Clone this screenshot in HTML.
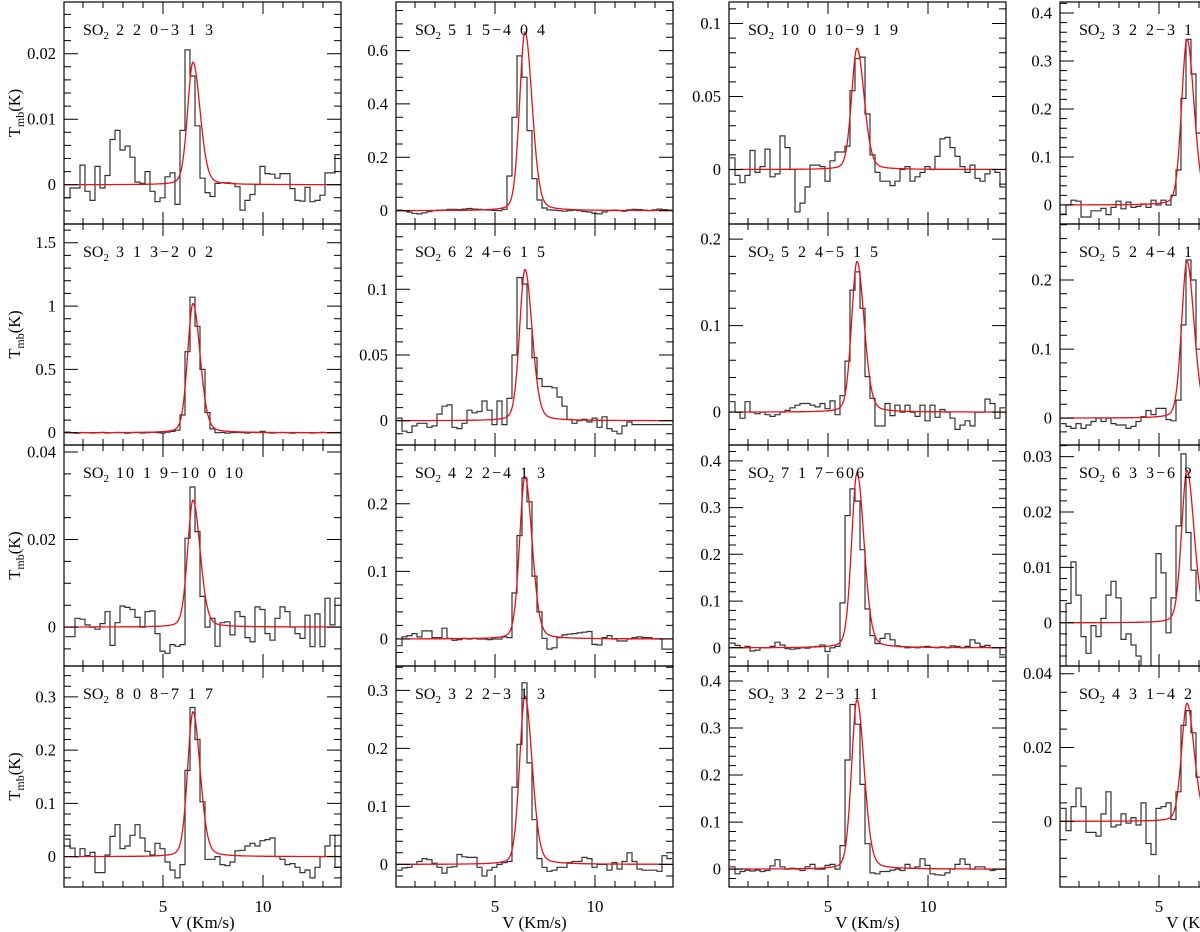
<!DOCTYPE html>
<html><head><meta charset="utf-8"><style>
html,body{margin:0;padding:0;background:#fff;}
svg{display:block;font-family:"Liberation Serif",serif;}
</style></head><body>
<svg id="fig" width="1200" height="932" viewBox="0 0 1200 932"></svg>
<script>
// ---- data ----
const titles = ["2 2 0\u22123 1 3","3 1 3\u22122 0 2","10 1 9\u221210 0 10","8 0 8\u22127 1 7",
"5 1 5\u22124 0 4","6 2 4\u22126 1 5","4 2 2\u22124 1 3","3 2 2\u22123 1 3",
"10 0 10\u22129 1 9","5 2 4\u22125 1 5","7 1 7\u2212606","3 2 2\u22123 1 1",
"3 2 2\u22123 1 2","5 2 4\u22124 1 3","6 3 3\u22126 2 4","4 3 1\u22124 2 2"];
const yMins = [-0.006,-0.097,-0.0089,-0.057, -0.05,-0.0185,-0.04,-0.039, -0.0373,-0.038,-0.039,-0.038, -0.0396,-0.039,-0.0078,-0.0178];
const yMaxs = [0.0279,1.648,0.0416,0.358, 0.782,0.1497,0.287,0.342, 0.1147,0.2174,0.434,0.4318, 0.4229,0.2812,0.0321,0.0421];
const yMajor = [0.01,0.5,0.02,0.1, 0.2,0.05,0.1,0.1, 0.05,0.1,0.1,0.1, 0.1,0.1,0.01,0.02];
const yMinor = [0.002,0.1,0.005,0.02, 0.05,0.01,0.02,0.02, 0.01,0.02,0.02,0.02, 0.02,0.02,0.002,0.005];
const fitAmp = [0.0187,1.02,0.029,0.272, 0.67,0.115,0.24,0.29, 0.083,0.174,0.374,0.36, 0.345,0.227,0.0275,0.032];
const fitCen = [6.5,6.5,6.5,6.5, 6.5,6.5,6.5,6.5, 6.45,6.45,6.45,6.45, 6.4,6.4,6.4,6.4];
const xTicks = [5,10];
const d1 = [-0.002,-0.0005,-0.0005,0.003,-0.001,-0.0024,0.0028,-0.0005,0.0014,0.0069,0.0083,0.0053,0.0059,0.0042,0.0004,0.0002,0.002,-0.001,-0.0026,-0.002,0.0012,0.0018,-0.003,0.0083,0.0206,0.0166,0.009,0.001,-0.0012,-0.0018,0.0002,0.0003,0.0003,0.0002,-0.0003,-0.0039,-0.0024,-0.0015,0,0.0028,0.0017,0.0016,0.001,0.0017,0.0017,-0.0006,-0.0024,-0.0025,-0.0004,-0.0026,-0.0024,-0.0016,0.0018,0.0018,0.0046];
const d2 = [0.005,0,-0.003,0.002,0,-0.002,0,0.003,-0.002,0,0.002,0,-0.003,0,0.002,-0.002,0,0.003,0,-0.002,0.004,0.01,0.02,0.14,0.64,1.07,0.84,0.5,0.16,0.03,0,0.002,-0.003,0,0.002,0,-0.002,0.003,0,0.01,0,-0.002,0,0.002,0,-0.003,0,0.002,0,-0.002,0,0.003,0,0,0.002];
const d3 = [-0.0022,-0.0022,0.002,0.0018,0.0005,0,-0.0005,0.0008,0.0035,-0.0042,0.001,0.0048,0.0045,0.004,0.0022,0,0.0035,0.0037,-0.0015,-0.0055,-0.006,-0.004,-0.0044,-0.004,0.0203,0.032,0.0218,0.007,0,0.002,-0.0044,0.001,0.0012,-0.0018,0.0035,0.0024,-0.0024,-0.0034,0.0046,0.004,-0.0015,-0.003,0.002,0.0046,0.0035,0,-0.0015,-0.0026,0.0027,-0.0045,0.003,-0.0045,0.0066,0.0005,0.0066];
const d4 = [0.033,0.016,0,0.015,0.002,0.008,-0.03,-0.03,0.003,0.038,0.06,0.015,0.02,0.04,0.06,0.035,0.01,0.003,0.025,0.015,-0.01,-0.025,-0.04,-0.015,0.162,0.28,0.22,0.103,-0.005,-0.005,0,-0.015,-0.017,-0.01,0.011,0.012,0.02,0.025,0.02,0.03,0.032,0.035,0,-0.005,-0.015,-0.013,-0.02,-0.03,-0.025,-0.04,-0.02,0,0.02,0.04,-0.02];
const d5 = [0.002,0,-0.005,-0.01,-0.012,-0.008,-0.004,0,0.002,0.002,0.005,0.005,0.004,0.006,0.008,0.006,0.005,0.003,0.002,0.001,0,0.005,0.13,0.35,0.58,0.5,0.3,0.12,0.04,0.01,0.003,0.002,0,-0.002,0,0.002,0,-0.003,-0.005,-0.01,-0.012,-0.005,0,0.002,0,-0.002,0.003,0.005,0.004,0.002,0,0.003,0.006,0.004,0.002];
const d6 = [0.002,-0.008,-0.009,-0.004,-0.002,-0.002,-0.005,-0.004,0.005,0.011,0.012,-0.005,-0.006,-0.002,0.008,0.006,0.007,0.015,0.008,-0.003,0.015,-0.003,0.017,0.05,0.109,0.104,0.07,0.048,0.032,0.026,0.026,0.025,0.018,0.011,0.001,-0.002,0,0.001,-0.001,0.002,-0.005,0.003,-0.006,-0.008,-0.01,-0.004,-0.001,-0.003,-0.003,-0.003,-0.003,-0.003,-0.003,-0.003,-0.003];
const d7 = [-0.01,0.003,0.005,0.008,0.003,0.012,0.012,0.002,0.002,0.016,0.001,-0.002,-0.001,0.001,0,0.001,0,0,-0.001,0,0,0.003,0.002,0.068,0.153,0.238,0.203,0.093,0.04,0.001,-0.015,-0.013,0.002,0.006,0.007,0.008,0.009,0.01,0.011,-0.008,-0.009,0.002,0.005,0,-0.003,-0.003,0,0.002,0.003,0.002,0.002,0,0,-0.015,-0.015];
const d8 = [-0.01,-0.006,-0.005,0,0.005,0.01,0.008,0.002,-0.005,-0.015,-0.005,-0.004,0.017,0.013,0.012,0.012,-0.005,-0.02,-0.01,-0.005,0,0.003,0.005,0.133,0.207,0.313,0.175,0.077,0.01,-0.005,-0.012,-0.01,-0.005,-0.005,0.003,0.005,0.005,0.012,0.01,-0.005,0,0,-0.01,0.003,-0.008,0.005,0.02,0.005,-0.008,-0.01,-0.01,-0.01,-0.012,0.015,0.01];
const d9 = [0.008,-0.004,-0.009,-0.004,0.013,-0.002,0.002,0.014,-0.005,-0.003,0.023,0.015,0,-0.029,-0.023,-0.012,0.003,0.003,0.002,-0.008,0.006,0.012,0.012,0.016,0.054,0.076,0.077,0.038,0.01,-0.002,-0.008,-0.008,-0.011,-0.008,0,0.002,-0.008,-0.005,-0.002,0.002,0,0.009,0.021,0.022,0.015,0.009,0.002,-0.002,0.003,-0.006,-0.008,-0.003,0,-0.002,-0.012];
const d10 = [0.012,0,-0.007,0.012,0,-0.002,0,-0.003,-0.005,-0.003,0,0.002,0.005,0.008,0.01,0.01,0.008,0.006,0.01,0.004,0.013,-0.003,0.019,0.059,0.141,0.162,0.12,0.041,0.016,-0.016,-0.016,0.01,-0.004,0.008,0,0.008,0,-0.005,0.008,-0.01,0.008,-0.006,0.003,0,-0.007,-0.02,-0.015,-0.01,-0.016,0,0,0.015,0.01,-0.007,0.005];
const d11 = [0.01,0.005,0,0.003,-0.007,-0.005,0,0,0.003,0.012,0.006,-0.002,-0.003,-0.002,0,-0.001,0.002,0.003,0.006,-0.008,0,0.003,0.096,0.283,0.34,0.314,0.21,0.083,0.026,0.009,0.02,0.03,0.017,0.004,0.002,0,0.001,0,0.002,0.003,0.001,0,0.002,0,0.004,0.003,0,0.003,0.017,0.01,0.003,0.005,0,0,-0.015];
const d12 = [0.005,-0.01,-0.005,-0.002,-0.004,-0.002,-0.005,-0.003,0.007,0.02,0.005,0,0.002,0,-0.003,0.005,0.01,0,0,0.008,0.01,0,0.05,0.232,0.35,0.308,0.18,0.054,-0.008,-0.01,-0.005,-0.005,-0.002,0,-0.003,0.01,0.002,0.005,0.022,0.008,-0.01,-0.012,-0.013,-0.008,0,0.01,0.022,0.01,0,0.005,0.005,0,-0.003,0,0];
const d13 = [-0.019,0,0.01,0.008,-0.025,-0.025,-0.012,-0.012,-0.007,-0.02,-0.005,0.008,-0.008,0.006,-0.005,-0.003,0.002,-0.005,0.01,0,0.01,0,0.02,0.073,0.222,0.345,0.273,0.15,0.06,0.02,0.005,0,-0.005,0.003,0,0.004,-0.003,0,0.002,0,-0.004,0,0.003,0,-0.002,0.002,0,-0.003,0,0.002,0,-0.002,0,0.003,0];
const d14 = [-0.008,-0.012,-0.015,-0.008,-0.015,-0.01,-0.005,0,-0.005,0,-0.008,-0.01,-0.01,-0.015,-0.012,-0.005,0.002,0.011,0.005,0.014,0.014,-0.002,-0.004,0.026,0.135,0.229,0.2,0.1,0.04,0.01,0.004,0,-0.004,0.003,0,0.002,-0.003,0,0.004,0,-0.002,0.003,0,-0.003,0,0.002,0,-0.002,0.003,0,-0.002,0,0.002,0,0];
const d15 = [-0.01,0.0035,0.011,0.005,-0.0025,-0.0055,-0.0005,-0.0025,0.0008,0.005,0.0075,0.0045,-0.003,-0.002,-0.004,-0.006,-0.012,-0.012,0.0045,0.0125,0.009,-0.0018,0.0045,0.0175,0.0305,0.0163,0.0095,0.004,0,0.002,0.003,-0.002,0,0.003,-0.003,0.001,0,-0.002,0.002,0,-0.003,0.002,0,0.001,-0.002,0,0.003,0,-0.002,0.001,0,-0.001,0.002,0,0];
const d16 = [0.0035,-0.0025,0.004,0.009,0.004,-0.003,-0.003,-0.004,0.002,0.008,-0.0015,-0.001,0.002,-0.0005,0.001,-0.001,0.005,-0.006,-0.009,0.0035,0.004,0.005,0.0005,0.008,0.026,0.03,0.024,0.012,0.004,0,0.003,-0.002,0,0.002,-0.003,0.001,0,-0.002,0.002,0,-0.002,0.003,0,-0.001,0.002,0,-0.003,0,0.002,0,-0.001,0.002,0,0,0];
const series = [d1,d2,d3,d4,d5,d6,d7,d8,d9,d10,d11,d12,d13,d14,d15,d16];

// ---- layout ----
const NS = "http://www.w3.org/2000/svg";
const svg = document.getElementById("fig");
const colLeft = [64,396,729,1060], PW = 277;
const rowTop = [2,224,445,666], rowBot = [224,445,666,887];
const XMIN = 0.05, XMAX = 13.9, V0 = 0.1, V1 = 13.85;
function mk(tag, attrs, parent){const e=document.createElementNS(NS,tag);for(const k in attrs)e.setAttribute(k,attrs[k]);(parent||svg).appendChild(e);return e;}
function fmt(v){return (+v.toFixed(4)).toString();}
function profile(v,A,c){
  const h = v<c ? 0.32 : 0.42;
  const t=(v-c)/h;
  return A*(0.8*Math.exp(-0.6931*t*t)+0.2/(1+t*t));
}

for(let p=0;p<16;p++){
  const col=Math.floor(p/4), row=p%4;
  const L=colLeft[col], R=L+PW, T=rowTop[row], B=rowBot[row];
  const ymin=yMins[p], ymax=yMaxs[p];
  const xs=v=>L+(v-XMIN)/(XMAX-XMIN)*PW;
  const ys=y=>B-(y-ymin)/(ymax-ymin)*(B-T);
  const g=mk("g",{});
  
  
  const cid="clip"+p;
  const cp=mk("clipPath",{id:cid},g); mk("rect",{x:L,y:T,width:PW,height:B-T},cp);
  const data=series[p], n=data.length, w=(V1-V0)/n;
  let d="M"+xs(V0).toFixed(1)+","+ys(data[0]).toFixed(1);
  for(let i=0;i<n;i++){
    if(i>0) d+=" V"+ys(data[i]).toFixed(1);
    d+=" H"+xs(V0+(i+1)*w).toFixed(1);
  }
  const hist=mk("path",{d:d,fill:"none",stroke:"#333","stroke-width":"1.2","clip-path":"url(#"+cid+")"},g);
  
  
  let fd="";
  for(let v=XMIN;v<=XMAX+0.001;v+=0.02){
    fd+=(fd?" L":"M")+xs(v).toFixed(1)+","+ys(profile(v,fitAmp[p],fitCen[p])).toFixed(1);
  }
  const fit=mk("path",{d:fd,fill:"none",stroke:"#e8101a","stroke-width":"1.3","clip-path":"url(#"+cid+")"},g);
  
  
  const fr=mk("rect",{x:L,y:T,width:PW,height:B-T,fill:"none",stroke:"#000","stroke-width":"1.2"},g);
  
  
  let td="";
  for(let v=1;v<=13;v++){
    const x=xs(v).toFixed(1), len=(v%5===0)?12:6;
    td+="M"+x+","+B+"v-"+len+"M"+x+","+T+"v"+len;
  }
  const mn=yMinor[p], mj=yMajor[p];
  for(let k=Math.ceil(ymin/mn-1e-6);k*mn<=ymax+1e-9;k++){
    const y=ys(k*mn).toFixed(1);
    const isMaj=Math.abs(k*mn/mj-Math.round(k*mn/mj))<1e-6;
    const len=isMaj?14:7;
    td+="M"+L+","+y+"h"+len+"M"+R+","+y+"h-"+len;
  }
  const ticks=mk("path",{d:td,stroke:"#000","stroke-width":"1",fill:"none"},g);
  
  
  for(let k=Math.ceil(ymin/mj-1e-6);k*mj<=ymax+1e-9;k++){
    const t=mk("text",{x:L-8,y:(ys(k*mj)+5.5).toFixed(1),"text-anchor":"end","font-size":"16.5",fill:"#000"},g);
    t.textContent=fmt(k*mj);
    
    
  }
  const tt=mk("text",{x:L+19,y:T+33,"font-size":"16",fill:"#000","letter-spacing":"2","word-spacing":"1"},g);
  
  
  const s1=mk("tspan",{"letter-spacing":"0"},tt); s1.textContent="SO";
  const s2=mk("tspan",{dy:"4","font-size":"11","letter-spacing":"0"},tt); s2.textContent="2";
  const s3=mk("tspan",{dy:"-4",dx:"7"},tt); s3.textContent=titles[p];
  if(row===3){
    xTicks.forEach(v=>{
      const t=mk("text",{x:xs(v).toFixed(1),y:912,"text-anchor":"middle","font-size":"17",fill:"#000"},g);
      t.textContent=String(v);
      
      
    });
    const xl=mk("text",{x:L+PW/2,y:928,"text-anchor":"middle","font-size":"17",fill:"#000"},g);
    xl.textContent="V (Km/s)";
    
    
  }
  if(col===0){
    const cy=(T+B)/2;
    const yl=mk("text",{x:0,y:0,transform:"translate(20,"+cy+") rotate(-90)","text-anchor":"middle","font-size":"16.5",fill:"#000"},g);
    
    
    const a=mk("tspan",{},yl); a.textContent="T";
    const b=mk("tspan",{dy:"4","font-size":"12"},yl); b.textContent="mb";
    const c=mk("tspan",{dy:"-4"},yl); c.textContent="(K)";
  }
}
</script>
</body></html>
